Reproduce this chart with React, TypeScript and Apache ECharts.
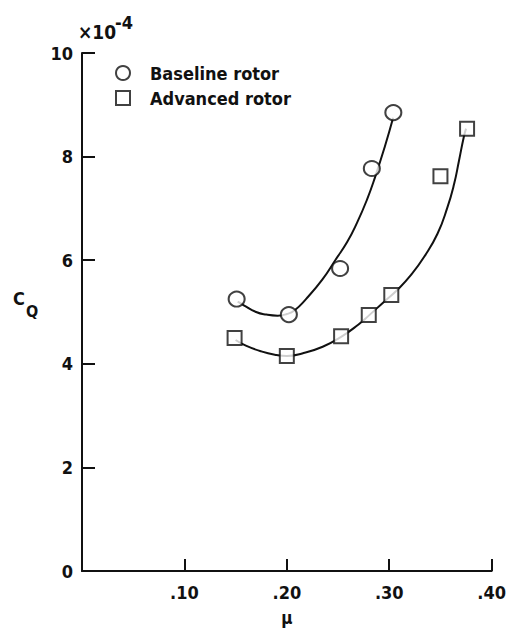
import React, { useEffect, useRef } from "react";
import * as echarts from "echarts";

// Measured points: [advance ratio mu, torque coefficient C_Q (x10^-4)]
const baselinePoints: [number, number][] = [
  [0.151, 5.25],
  [0.202, 4.95],
  [0.252, 5.84],
  [0.283, 7.77],
  [0.304, 8.85],
];
const advancedPoints: [number, number][] = [
  [0.149, 4.5],
  [0.2, 4.15],
  [0.253, 4.53],
  [0.28, 4.94],
  [0.302, 5.33],
  [0.35, 7.62],
  [0.376, 8.54],
];

// Faired curves through the data
const baselineFaired: [number, number][] = [
  [0.152, 5.2],
  [0.158, 5.13],
  [0.17, 5.0],
  [0.18, 4.95],
  [0.191, 4.93],
  [0.2, 4.96],
  [0.2074, 5.03],
  [0.2187, 5.25],
  [0.2348, 5.63],
  [0.2476, 6.01],
  [0.2589, 6.35],
  [0.2685, 6.72],
  [0.2781, 7.16],
  [0.2861, 7.6],
  [0.2958, 8.2],
  [0.3038, 8.75],
];
const advancedFaired: [number, number][] = [
  [0.15, 4.46],
  [0.16, 4.35],
  [0.175, 4.24],
  [0.19, 4.17],
  [0.2, 4.15],
  [0.215, 4.2],
  [0.235, 4.33],
  [0.253, 4.52],
  [0.27, 4.76],
  [0.28, 4.93],
  [0.295, 5.2],
  [0.3086, 5.44],
  [0.3215, 5.72],
  [0.3343, 6.07],
  [0.3471, 6.51],
  [0.3568, 7.02],
  [0.3632, 7.46],
  [0.368, 7.91],
  [0.3728, 8.38],
  [0.375, 8.54],
];

const xTicks = [0, 0.1, 0.2, 0.3, 0.4];
const yTicks = [0, 2, 4, 6, 8, 10];

const FONT = "'DejaVu Sans Condensed', 'Liberation Sans Narrow', sans-serif";
const INK = "#111";

export default function App() {
  const ref = useRef<HTMLDivElement>(null);

  useEffect(() => {
    if (!ref.current) return;
    const chart = echarts.init(ref.current, null, { renderer: "svg" });

    const markerStyle = {
      color: "#fff",
      borderColor: INK,
      borderWidth: 2,
    };
    const label = { fontFamily: FONT, fontWeight: "bold" as const, color: INK };

    chart.setOption({
      animation: false,
      backgroundColor: "#fff",
      grid: { left: 82, right: 10, top: 53, bottom: 51 },
      xAxis: {
        type: "value",
        min: xTicks[0],
        max: xTicks[xTicks.length - 1],
        interval: 0.1,
        name: "\u03bc",
        nameLocation: "middle",
        nameGap: 38,
        nameTextStyle: { ...label, fontSize: 17 },
        axisLine: { show: true, onZero: false, lineStyle: { color: INK, width: 2 } },
        axisTick: { show: true, inside: true, length: 12, lineStyle: { color: INK, width: 2 } },
        axisLabel: {
          ...label,
          margin: 12,
          fontSize: 18,
          formatter: (v: number) => (v === 0 ? "" : "." + (v * 100).toFixed(0)),
        },
        splitLine: { show: false },
      },
      yAxis: {
        type: "value",
        min: yTicks[0],
        max: yTicks[yTicks.length - 1],
        interval: 2,
        axisLine: { show: true, onZero: false, lineStyle: { color: INK, width: 2 } },
        axisTick: { show: true, inside: true, length: 13, lineStyle: { color: INK, width: 2 } },
        axisLabel: { ...label, margin: 9, fontSize: 18 },
        splitLine: { show: false },
      },
      legend: {
        orient: "vertical",
        left: 115,
        top: 64,
        padding: 0,
        itemWidth: 14,
        itemHeight: 14,
        itemGap: 7,
        textStyle: { ...label, fontSize: 18, padding: [0, 0, 0, 15] },
        data: [
          { name: "Baseline rotor", icon: "circle", itemStyle: markerStyle },
          { name: "Advanced rotor", icon: "rect", itemStyle: markerStyle },
        ],
      },
      graphic: [
        { type: "text", left: 13, top: 289, style: { text: "C", font: `bold 18px ${FONT}`, fill: INK } },
        { type: "text", left: 26, top: 303, style: { text: "Q", font: `bold 16px ${FONT}`, fill: INK } },
        { type: "text", left: 78, top: 22, style: { text: "\u00d710", font: `bold 19px ${FONT}`, fill: INK } },
        { type: "text", left: 115, top: 13, style: { text: "-4", font: `bold 18px ${FONT}`, fill: INK } },
      ],
      series: [
        {
          name: "baselineFit",
          type: "line",
          data: baselineFaired,
          smooth: 0.5,
          showSymbol: false,
          silent: true,
          lineStyle: { color: INK, width: 2 },
          z: 1,
        },
        {
          name: "advancedFit",
          type: "line",
          data: advancedFaired,
          smooth: 0.5,
          showSymbol: false,
          silent: true,
          lineStyle: { color: INK, width: 2 },
          z: 1,
        },
        {
          name: "Baseline rotor",
          type: "scatter",
          data: baselinePoints,
          symbol: "circle",
          symbolSize: [16, 15],
          itemStyle: markerStyle,
          z: 3,
        },
        {
          name: "Advanced rotor",
          type: "scatter",
          data: advancedPoints,
          symbol: "rect",
          symbolSize: 14,
          itemStyle: markerStyle,
          z: 3,
        },
      ],
    });

    return () => chart.dispose();
  }, []);

  return (
    <div
      ref={ref}
      style={{ position: "absolute", left: 0, top: 0, width: 509, height: 631, background: "#fff" }}
    />
  );
}
